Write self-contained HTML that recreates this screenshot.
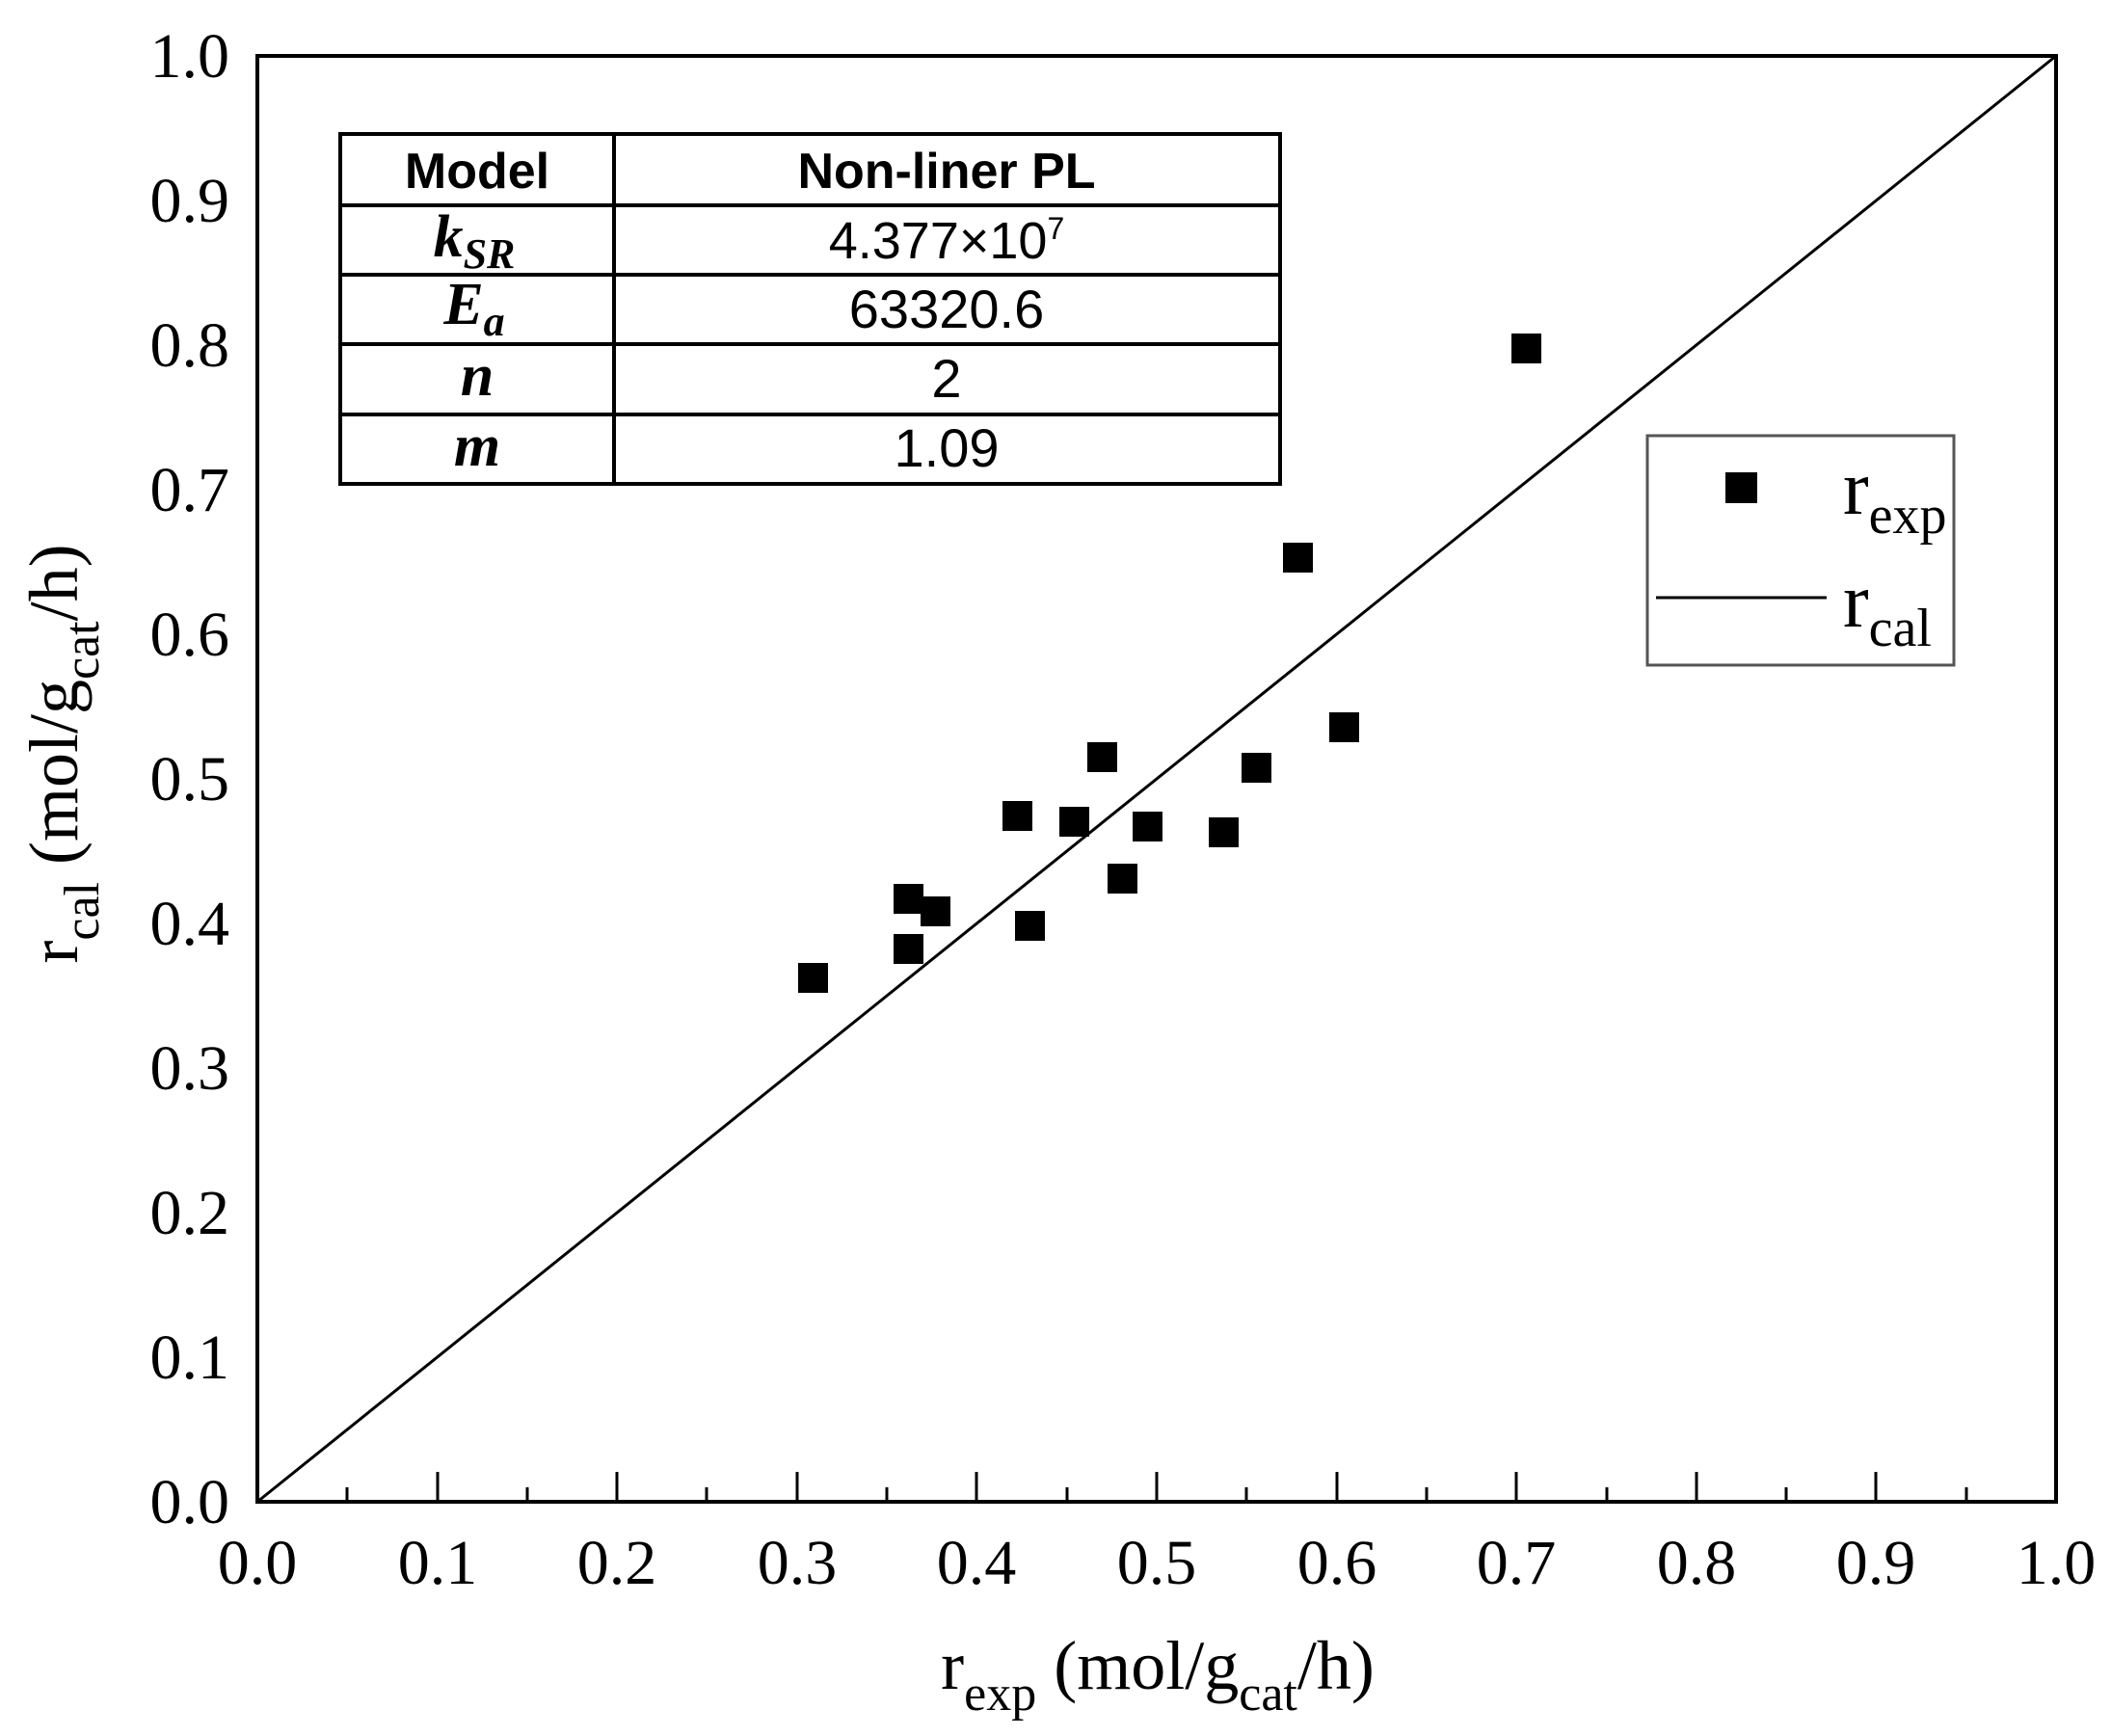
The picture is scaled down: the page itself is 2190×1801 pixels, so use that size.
<!DOCTYPE html>
<html><head><meta charset="utf-8"><style>html,body{margin:0;padding:0;background:#fff}svg{display:block}</style></head>
<body>
<svg width="2190" height="1801" viewBox="0 0 2190 1801" xmlns="http://www.w3.org/2000/svg">
<rect width="2190" height="1801" fill="#fff"/>
<g font-family="Liberation Serif, serif" fill="#000">
<rect x="267" y="58" width="1866" height="1500" fill="none" stroke="#000" stroke-width="4"/>
<line x1="267" y1="1558" x2="2133" y2="58" stroke="#000" stroke-width="3"/>
<g stroke="#000" stroke-width="3">
<line x1="360" y1="1558" x2="360" y2="1543"/><line x1="454" y1="1558" x2="454" y2="1527"/>
<line x1="547" y1="1558" x2="547" y2="1543"/><line x1="640" y1="1558" x2="640" y2="1527"/>
<line x1="733" y1="1558" x2="733" y2="1543"/><line x1="827" y1="1558" x2="827" y2="1527"/>
<line x1="920" y1="1558" x2="920" y2="1543"/><line x1="1013" y1="1558" x2="1013" y2="1527"/>
<line x1="1107" y1="1558" x2="1107" y2="1543"/><line x1="1200" y1="1558" x2="1200" y2="1527"/>
<line x1="1293" y1="1558" x2="1293" y2="1543"/><line x1="1387" y1="1558" x2="1387" y2="1527"/>
<line x1="1480" y1="1558" x2="1480" y2="1543"/><line x1="1573" y1="1558" x2="1573" y2="1527"/>
<line x1="1667" y1="1558" x2="1667" y2="1543"/><line x1="1760" y1="1558" x2="1760" y2="1527"/>
<line x1="1853" y1="1558" x2="1853" y2="1543"/><line x1="1946" y1="1558" x2="1946" y2="1527"/>
<line x1="2040" y1="1558" x2="2040" y2="1543"/>
</g>
<g font-size="66" text-anchor="middle">
<text x="267" y="1643">0.0</text><text x="454" y="1643">0.1</text><text x="640" y="1643">0.2</text>
<text x="827" y="1643">0.3</text><text x="1013" y="1643">0.4</text><text x="1200" y="1643">0.5</text>
<text x="1387" y="1643">0.6</text><text x="1573" y="1643">0.7</text><text x="1760" y="1643">0.8</text>
<text x="1946" y="1643">0.9</text><text x="2133" y="1643">1.0</text>
</g>
<g font-size="66" text-anchor="end">
<text x="238" y="1580">0.0</text><text x="238" y="1430">0.1</text><text x="238" y="1280">0.2</text>
<text x="238" y="1130">0.3</text><text x="238" y="980">0.4</text><text x="238" y="830">0.5</text>
<text x="238" y="680">0.6</text><text x="238" y="530">0.7</text><text x="238" y="380">0.8</text>
<text x="238" y="230">0.9</text><text x="238" y="80">1.0</text>
</g>
<text x="1201" y="1752" font-size="72" text-anchor="middle">r<tspan font-size="52" dy="22">exp</tspan><tspan dy="-22"> (mol/g</tspan><tspan font-size="52" dy="22">cat</tspan><tspan dy="-22">/h)</tspan></text>
<text transform="translate(80,782) rotate(-90)" font-size="72" text-anchor="middle">r<tspan font-size="52" dy="22">cal</tspan><tspan dy="-22"> (mol/g</tspan><tspan font-size="52" dy="22">cat</tspan><tspan dy="-22">/h)</tspan></text>
<g fill="#000">
<rect x="1568" y="346" width="31" height="31"/>
<rect x="1331" y="563" width="31" height="31"/>
<rect x="1379" y="739" width="31" height="31"/>
<rect x="1288" y="781" width="31" height="31"/>
<rect x="1128" y="770" width="31" height="31"/>
<rect x="1040" y="831" width="31" height="31"/>
<rect x="1099" y="837" width="31" height="31"/>
<rect x="1175" y="842" width="31" height="31"/>
<rect x="1254" y="848" width="31" height="31"/>
<rect x="1149" y="896" width="31" height="31"/>
<rect x="927" y="917" width="31" height="31"/>
<rect x="955" y="930" width="31" height="31"/>
<rect x="1053" y="945" width="31" height="31"/>
<rect x="927" y="969" width="31" height="31"/>
<rect x="828" y="999" width="31" height="31"/>
</g>
<rect x="1709" y="452" width="318" height="238" fill="#fff" stroke="#555" stroke-width="3"/>
<rect x="1790" y="490" width="33" height="32" fill="#000"/>
<line x1="1718" y1="620" x2="1895" y2="620" stroke="#000" stroke-width="3"/>
<text x="1912" y="533" font-size="80">r<tspan font-size="56" dy="20">exp</tspan></text>
<text x="1912" y="650" font-size="80">r<tspan font-size="56" dy="20">cal</tspan></text>
</g>
<g font-family="Liberation Sans, sans-serif" fill="#000">
<g stroke="#000" stroke-width="4" fill="none">
<rect x="353" y="139" width="975" height="363"/>
<line x1="353" y1="213" x2="1328" y2="213"/>
<line x1="353" y1="285" x2="1328" y2="285"/>
<line x1="353" y1="357" x2="1328" y2="357"/>
<line x1="353" y1="430" x2="1328" y2="430"/>
<line x1="637" y1="139" x2="637" y2="502"/>
</g>
<g font-size="52" text-anchor="middle">
<text x="495" y="195" font-weight="bold">Model</text>
<text x="982" y="195" font-weight="bold">Non-liner PL</text>
<text x="982" y="268" font-size="54">4.377×10<tspan font-size="32" dy="-20">7</tspan></text>
<text x="982" y="340" font-size="56">63320.6</text>
<text x="982" y="412" font-size="56">2</text>
<text x="982" y="484" font-size="56">1.09</text>
</g>
<g font-family="Liberation Serif, serif" font-style="italic" font-weight="bold" font-size="62" text-anchor="middle">
<text x="492" y="266">k<tspan font-size="44" dy="12">SR</tspan></text>
<text x="492" y="336">E<tspan font-size="44" dy="12">a</tspan></text>
<text x="495" y="410">n</text>
<text x="495" y="483">m</text>
</g>
</g>
</svg>
</body></html>
